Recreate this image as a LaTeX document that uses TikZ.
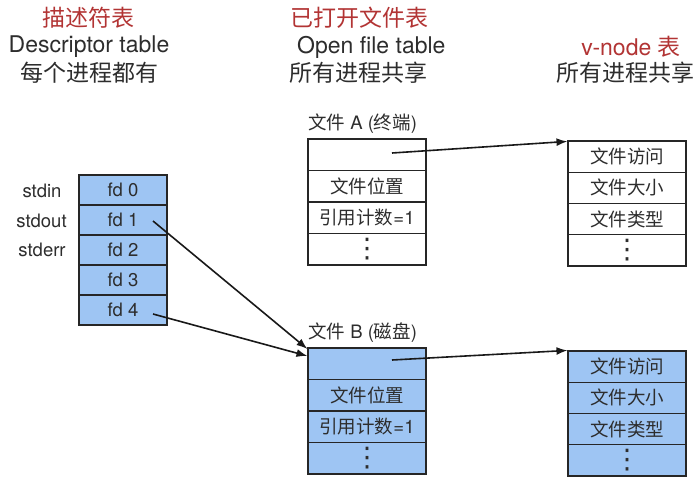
\documentclass[tikz,border=0pt]{standalone}
\usepackage{fontspec}
\setmainfont{TeX Gyre Heros}
\newfontfamily\cjk{Noto Sans CJK SC}
\newfontfamily\sym{DejaVu Sans}
\usetikzlibrary{arrows.meta}
\definecolor{cellblue}{RGB}{158,197,243}
\definecolor{hdrred}{RGB}{178,52,52}
\definecolor{txt}{RGB}{45,45,45}
\newcommand\mydots{{\sym\fontsize{27}{27}\selectfont ⋮}}
\begin{document}
\begin{tikzpicture}[x=1pt,y=-1pt,
  base/.style={draw=black!85, line width=1.1pt, inner sep=0pt, text=txt, font=\fontsize{18.5}{21}\selectfont},
  fdcell/.style={base, fill=cellblue, minimum width=88pt, minimum height=30pt},
  fcell/.style={base, minimum width=118pt, minimum height=31.5pt},
  vcell/.style={base, minimum width=118pt, minimum height=31.25pt},
  blue/.style={fill=cellblue},
  hdr/.style={font=\fontsize{23}{26}\selectfont, text=txt, inner sep=0pt},
  red/.style={text=hdrred},
  lbl/.style={font=\fontsize{18.5}{21}\selectfont, text=txt, inner sep=0pt},
  ptr/.style={line width=1.6pt, black!90, -{Latex[length=11pt,width=8pt]}}
]
\useasboundingbox (0,0) rectangle (700,485);

% headers
\node[hdr,red] (h1a) at (88,18) {\cjk 描述符表};
\node[hdr] (h1b) at (89,47) {Descriptor table};
\node[hdr] (h1c) at (89,73) {\cjk 每个进程都有};
\node[hdr,red] (h2a) at (359,18) {\cjk 已打开文件表};
\node[hdr,anchor=west] (h2b) at (297,47) {Open file table};
\node[hdr] (h2c) at (358,73) {\cjk 所有进程共享};
\node[hdr,red] (h3a) at (631,47) {v-node {\cjk 表}};
\node[hdr] (h3b) at (625,73) {\cjk 所有进程共享};

% descriptor table
\node[fdcell] (fd0) at (123,190) {fd 0};
\node[fdcell] (fd1) at (123,220) {fd 1};
\node[fdcell] (fd2) at (123,250) {fd 2};
\node[fdcell] (fd3) at (123,280) {fd 3};
\node[fdcell] (fd4) at (123,310) {fd 4};
\node[lbl] (lin) at (42,191) {stdin};
\node[lbl] (lout) at (41.5,221) {stdout};
\node[lbl] (lerr) at (42,250) {stderr};

% file A
\node[lbl,anchor=west] (tA) at (308,124) {{\cjk 文件} A ({\cjk 终端})};
\node[fcell] (fA0) at (367,154.75) {};
\node[fcell] (fA1) at (367,186.25) {\cjk 文件位置};
\node[fcell] (fA2) at (367,217.75) {{\cjk 引用计数}=1};
\node[fcell] (fA3) at (367,249.25) {\mydots};

% file B
\node[lbl,anchor=west] (tB) at (308,333) {{\cjk 文件} B ({\cjk 磁盘})};
\node[fcell,blue] (fB0) at (367,363.75) {};
\node[fcell,blue] (fB1) at (367,395.25) {\cjk 文件位置};
\node[fcell,blue] (fB2) at (367,426.75) {{\cjk 引用计数}=1};
\node[fcell,blue] (fB3) at (367,458.25) {\mydots};

% v-node A
\node[vcell] (vA0) at (627,156.6) {\cjk 文件访问};
\node[vcell] (vA1) at (627,187.9) {\cjk 文件大小};
\node[vcell] (vA2) at (627,219.1) {\cjk 文件类型};
\node[vcell] (vA3) at (627,250.4) {\mydots};

% v-node B
\node[vcell,blue] (vB0) at (627,366.6) {\cjk 文件访问};
\node[vcell,blue] (vB1) at (627,397.9) {\cjk 文件大小};
\node[vcell,blue] (vB2) at (627,429.1) {\cjk 文件类型};
\node[vcell,blue] (vB3) at (627,460.4) {\mydots};

% pointers
\coordinate (s1) at ([xshift=30pt,yshift=-1pt]fd1.center);
\coordinate (s4) at ([xshift=30pt,yshift=-4pt]fd4.center);
\coordinate (sA) at ([xshift=25pt,yshift=1.75pt]fA0.center);
\coordinate (sB) at ([xshift=25pt,yshift=3.75pt]fB0.center);
\draw[ptr] (s1) -- ([yshift=14.75pt]fB0.west);
\draw[ptr] (s4) -- ([yshift=7.75pt]fB0.west);
\draw[ptr] (sA) -- ([yshift=-1pt]vA0.north west);
\draw[ptr] (sB) -- (vB0.north west);
\end{tikzpicture}
\end{document}
